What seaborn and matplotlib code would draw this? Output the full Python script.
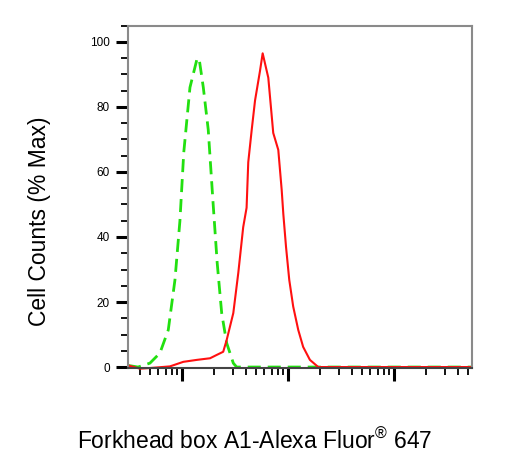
import matplotlib
matplotlib.use("Agg")
import matplotlib.pyplot as plt
import matplotlib.ticker as mticker
import numpy as np
import seaborn as sns

# control (isotype), green dashed
ctrl_x = [3.1, 3.85, 4.99, 6.2, 7.43, 8.59, 9.57, 10.4, 11.9, 13.8, 14.5, 15.9,
          17.7, 19.7, 21.5, 23.7, 26.4, 30.5, 32.8, 100, 1000, 5400]
ctrl_y = [0.5, 0, 1.2, 4.3, 11.4, 26.8, 45, 66, 86, 94.5, 95, 86,
          73, 50, 32, 16.6, 7.4, 1.2, 0, 0, 0, 0]

# Forkhead box A1 stained, red solid
foxa_x = [3.1, 4.02, 5.0, 7.71, 10.3, 13.8, 18.4, 21.2, 24.5, 26.4, 30.5, 34.0,
          37.8, 40.7, 42.2, 45.5, 48.9, 54.4, 57.7, 65.2, 72.6, 81.0, 87.2, 90.4,
          95.8, 102.8, 112, 125, 139, 161, 193, 500, 2000, 5400]
foxa_y = [0.5, -0.5, -0.3, 0.2, 1.6, 2.2, 2.7, 3.7, 4.7, 8.3, 16.6, 29,
          43, 49, 63, 73, 82, 91, 96.5, 89, 72, 66.8, 54.5, 47,
          37, 26.8, 18.6, 11.4, 6.2, 2.2, 0, 0, 0, 0]

y_ticks = [0, 20, 40, 60, 80, 100]

sns.set_style("ticks")
plt.rcParams['font.family'] = ['Liberation Sans', 'DejaVu Sans']
plt.rcParams['mathtext.fontset'] = 'custom'
plt.rcParams['mathtext.rm'] = 'Liberation Sans'

fig = plt.figure(figsize=(5.23, 4.61), dpi=100)
ax = fig.add_axes([0.2447, 0.2017, 0.9020 - 0.2447, 0.9443 - 0.2017])

sns.lineplot(x=ctrl_x, y=ctrl_y, ax=ax, color="#22e010", lw=2,
             linestyle=(0, (4.7, 2.5)), clip_on=False)
sns.lineplot(x=foxa_x, y=foxa_y, ax=ax, color="#ff1010", lw=1.5, clip_on=False)

ax.set_xscale("log")
ax.set_xlim(10 ** 0.491, 10 ** 3.733)
ax.set_ylim(-0.3, 105)

ax.set_yticks(y_ticks)
ax.yaxis.set_minor_locator(mticker.MultipleLocator(5))
ax.xaxis.set_major_locator(mticker.LogLocator(base=10, numticks=10))
ax.xaxis.set_minor_locator(mticker.LogLocator(base=10, subs=np.arange(2, 10), numticks=20))
ax.xaxis.set_major_formatter(mticker.NullFormatter())
ax.xaxis.set_minor_formatter(mticker.NullFormatter())

ax.tick_params(axis="both", which="major", length=9, width=2.2, color="black",
               labelsize=8.5, labelcolor="black", pad=4)
ax.tick_params(axis="both", which="minor", length=5, width=1.3, color="black")

for side in ["top", "right", "left"]:
    ax.spines[side].set_color("#8a8a8a")
    ax.spines[side].set_linewidth(1.5)
ax.spines["bottom"].set_color("#444444")
ax.spines["bottom"].set_linewidth(1.5)

ax.set_xlabel("")
ax.set_ylabel("")
fig.text(0.0746, 0.5195, "Cell Counts (% Max)", rotation=90, ha="center",
         va="center", fontsize=16.5, color="black")
fig.text(0.4876, 0.0434, "Forkhead box A1-Alexa Fluor$^{®}$ 647", ha="center",
         va="center", fontsize=16.5, color="black")

fig.savefig("out.png", dpi=100)
